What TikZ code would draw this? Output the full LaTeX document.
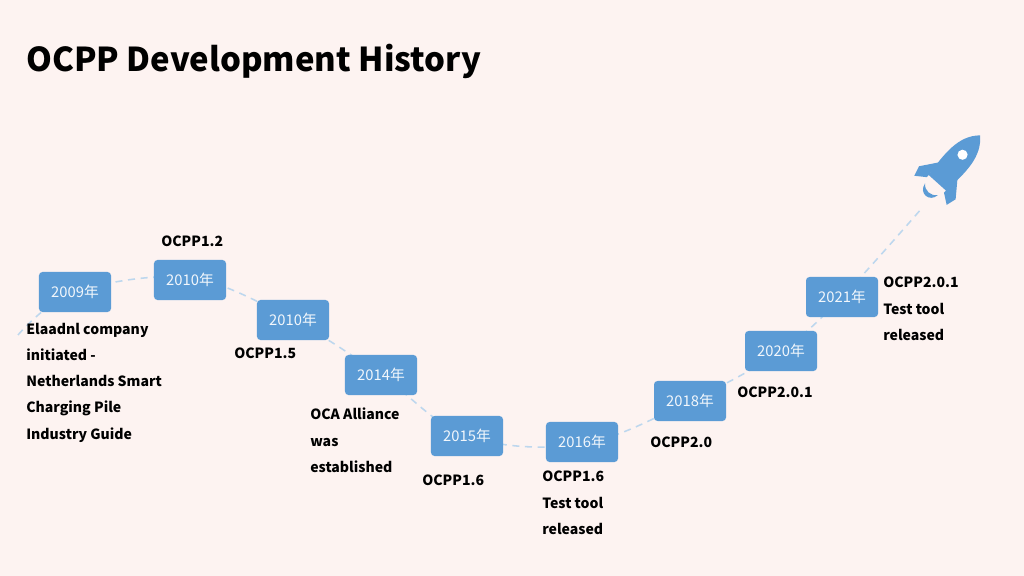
\documentclass[tikz,border=0pt]{standalone}
\usepackage{fontspec}
\setmainfont{Noto Sans CJK SC}
\usetikzlibrary{positioning}
\definecolor{bgpink}{HTML}{FDF3F1}
\definecolor{boxblue}{HTML}{5B9BD5}
\definecolor{pathblue}{HTML}{BDD7EE}
\tikzset{
  year/.style={rectangle, rounded corners=2.5pt, fill=boxblue, text=white!92!boxblue,
    minimum width=1.8cm, minimum height=1cm, inner sep=0pt, font=\fontsize{10.5}{12}\selectfont},
  note/.style={anchor=north west, align=left, inner sep=0pt,
    font=\bfseries\fontsize{10}{18.6}\selectfont}
}
\begin{document}
\begin{tikzpicture}[x=0.025cm,y=-0.025cm]
  \fill[bgpink] (0,0) rectangle (1024,576);
  \useasboundingbox (0,0) rectangle (1024,576);

  \node[anchor=west, inner sep=0pt, font=\bfseries\fontsize{23.4}{28}\selectfont] (title) at (26,61) {OCPP Development History};

  % dashed timeline
  \coordinate (start) at (18,335);
  \coordinate (tip) at (922,208);
  \draw[pathblue, dashed, line width=1.1pt, dash pattern=on 5pt off 4pt]
    plot[smooth, tension=0.6] coordinates {(18,335) (75,292) (190,278) (293,320) (381,375) (467,436) (582,444) (690,401) (781,351) (842,297) (922,208)};

  \node[year] (y09) at (75,292) {2009年};
  \node[year] (y10a) at (190,280) {2010年};
  \node[year] (y10b) at (293,320) {2010年};
  \node[year] (y14) at (381,375) {2014年};
  \node[year] (y15) at (467,436) {2015年};
  \node[year] (y16) at (582,442) {2016年};
  \node[year] (y18) at (690,401) {2018年};
  \node[year] (y20) at (781,351) {2020年};
  \node[year] (y21) at (842,297) {2021年};

  \node[note] (n09) at (26,323) {Elaadnl company\\initiated -\\Netherlands Smart\\Charging Pile\\Industry Guide};
  \node[note] (n10a) at (161,236) {OCPP1.2};
  \node[note] (n10b) at (234,348) {OCPP1.5};
  \node[note] (n14) at (310,408) {OCA Alliance\\was\\established};
  \node[note] (n15) at (422,475) {OCPP1.6};
  \node[note] (n16) at (542,471) {OCPP1.6\\Test tool\\released};
  \node[note] (n18) at (650,437) {OCPP2.0};
  \node[note] (n20) at (737,387) {OCPP2.0.1};
  \node[note] (n21) at (883,277) {OCPP2.0.1\\Test tool\\released};

  % rocket
  \begin{scope}[shift={(947,172)}, rotate=-42, scale=1.45]
    \fill[boxblue] (0,-34) .. controls (11,-24) and (10,-8) .. (8,10) -- (-8,10) .. controls (-10,-8) and (-11,-24) .. (0,-34) -- cycle;
    \fill[boxblue] (-8,-2) -- (-17,10) -- (-15,17) -- (-8,12) -- cycle;
    \fill[boxblue] (8,-2) -- (17,10) -- (15,17) -- (8,12) -- cycle;
    \fill[boxblue] (-6,16) .. controls (-5,24) and (5,24) .. (6,16) .. controls (3,20) and (-3,20) .. (-6,16) -- cycle;
    \fill[white] (0,-16) circle (3.5);
  \end{scope}
\end{tikzpicture}
\end{document}
